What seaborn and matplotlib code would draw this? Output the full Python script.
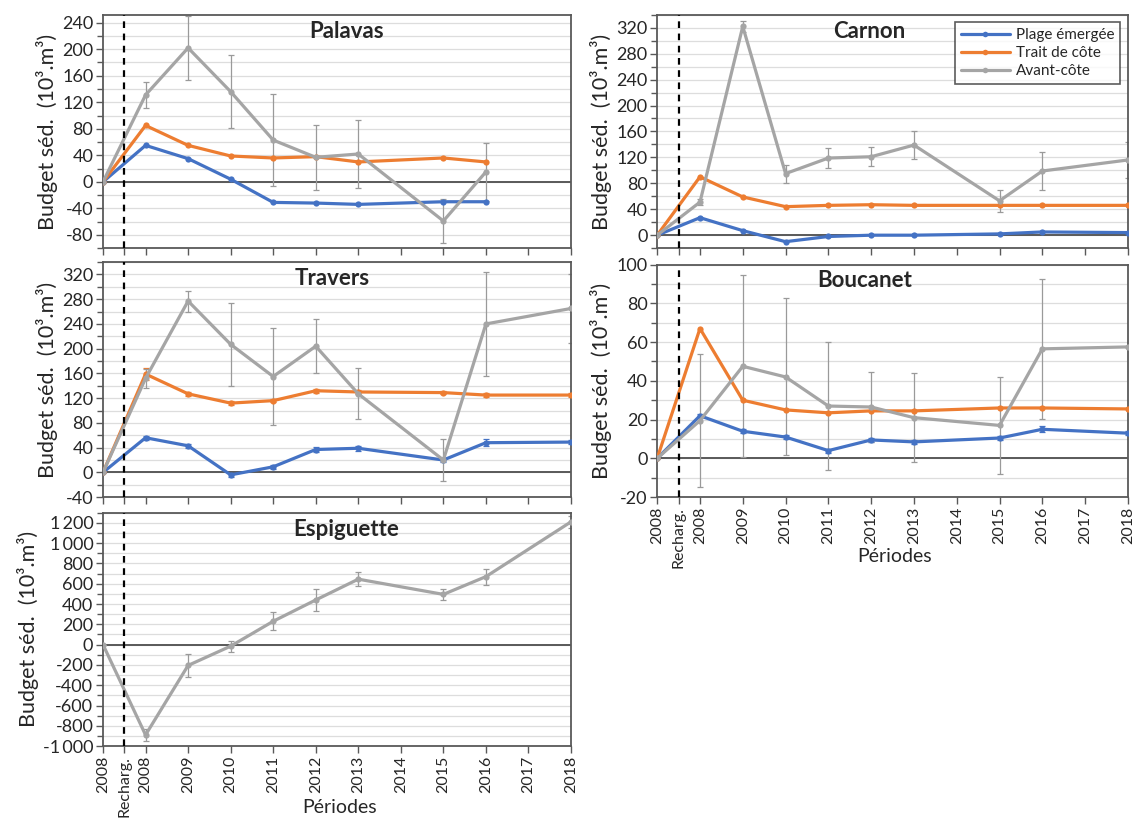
import numpy as np
import pandas as pd
import seaborn as sns
import matplotlib.pyplot as plt
from matplotlib.lines import Line2D
from matplotlib.ticker import MultipleLocator, FuncFormatter

# x axis: category slots 0..11, the recharge sits halfway between the two 2008 slots
tick_labels = ['2008', '2008', '2009', '2010', '2011', '2012', '2013', '2014', '2015', '2016', '2017', '2018']
recharge_label = 'Recharg.'
recharge_slot = 0.5
survey_slot = [0, 1, 2, 3, 4, 5, 6, 8, 9, 11]

series_names = ['Plage émergée', 'Trait de côte', 'Avant-côte']
colors = ['#4472C4', '#ED7D31', '#A5A5A5']
err_colors = ['#4472C4', '#ED7D31', '#9A9A9A']
nan = np.nan

# budgets (10^3 m3)
palavas_plage = [0, 55, 35, 4, -31, -32, -34, -30, -30, nan]
palavas_trait = [0, 85, 55, 39, 36, 38, 30, 36, 30, nan]
palavas_avant = [0, 131, 202, 136, 63, 37, 42, -59, 15, nan]
palavas_avant_err = [0, 19, 48, 55, 70, 49, 52, 33, 44, nan]

carnon_plage = [0, 27, 7, -10, -2, 0, 0, 2, 5, 4]
carnon_trait = [0, 90, 59, 44, 46, 47, 46, 46, 46, 46]
carnon_avant = [0, 51, 322, 95, 119, 121, 139, 53, 99, 116]
carnon_avant_err = [0, 5, 9, 14, 15, 15, 22, 17, 30, 28]

travers_plage = [0, 56, 43, -4, 9, 37, 39, 20, 48, 49]
travers_plage_err = [0, 3, 3, 3, 3, 4, 4, 3, 6, 3]
travers_trait = [0, 159, 127, 112, 116, 132, 130, 129, 125, 125]
travers_trait_err = [0, 10, 3, 3, 3, 3, 3, 3, 3, 3]
travers_avant = [0, 152, 277, 207, 155, 204, 127, 20, 240, 265]
travers_avant_err = [0, 15, 17, 67, 79, 44, 41, 34, 84, 56]

boucanet_plage = [0, 22, 14, 11, 4, 9.5, 8.5, 10.5, 15, 13]
boucanet_plage_err = [0, 1, 1, 1, 1, 1, 1, 1, 1.5, 1]
boucanet_trait = [0, 67, 30, 25, 23.5, 24.5, 24.5, 26, 26, 25.5]
boucanet_avant = [0, 19.5, 47.5, 42, 27, 26.5, 21, 17, 56.5, 57.5]
boucanet_avant_err = [0, 34.5, 47, 40.5, 33, 18, 23, 25, 36, 0]

espiguette_avant = [0, -890, -205, -15, 230, 440, 645, 495, 670, 1210]
espiguette_avant_err = [0, 60, 110, 54, 88, 105, 68, 51, 80, 60]

sns.set_style('white')
plt.rcParams['font.family'] = ['Lato', 'DejaVu Sans']
plt.rcParams['axes.unicode_minus'] = False

fig = plt.figure(figsize=(11.37, 8.19), dpi=100)


def thousands(v, pos):
    return f'{v:,.0f}'.replace(',', '\u2009')


def draw_site(rect, name, series, errors, ylim, major, minor, title_x, show_x=False, legend=False):
    ax = fig.add_axes(rect)
    rows = []
    for nm, vals in zip(series_names, series):
        if vals is None:
            continue
        for s, v in zip(survey_slot, vals):
            if not np.isnan(v):
                rows.append({'slot': s, 'budget': v, 'serie': nm})
    df = pd.DataFrame(rows)
    used = [nm for nm, v in zip(series_names, series) if v is not None]
    pal = {nm: c for nm, c in zip(series_names, colors)}

    # grid + zero line + recharge marker
    ax.set_ylim(*ylim)
    ax.yaxis.set_major_locator(MultipleLocator(major))
    ax.yaxis.set_minor_locator(MultipleLocator(minor))
    ax.grid(True, which='both', axis='y', color='#DDDDDD', lw=0.9, zorder=0)
    ax.axhline(0, color='#595959', lw=1.4, zorder=1)
    ax.axvline(recharge_slot, color='black', ls=(0, (3, 2.5)), lw=1.6, zorder=5)

    for nm, vals, err in zip(series_names, series, errors):
        if vals is None or err is None:
            continue
        c = err_colors[series_names.index(nm)]
        ax.errorbar(survey_slot, vals, yerr=err, fmt='none', ecolor=c, elinewidth=0.9,
                    capsize=2, capthick=0.9, zorder=2)

    sns.lineplot(data=df, x='slot', y='budget', hue='serie', hue_order=used, palette=pal,
                 marker='o', markersize=4.5, markeredgewidth=0, lw=2.3, errorbar=None,
                 legend=False, ax=ax, zorder=3)

    ax.set_xlim(0, 11)
    ax.set_xticks(list(range(12)) + [recharge_slot])
    if show_x:
        ax.set_xticklabels(tick_labels + [recharge_label], rotation=90, fontsize=11.5)
    else:
        ax.set_xticklabels([])
    ax.set_xlabel('')
    ax.yaxis.set_major_formatter(FuncFormatter(thousands))
    ax.tick_params(axis='y', which='major', labelsize=13, length=5, width=1, color='#595959',
                   direction='out', left=True, pad=2)
    ax.tick_params(axis='y', which='minor', length=4, width=1, color='#595959', direction='out', left=True)
    ax.tick_params(axis='x', which='major', length=5, width=1, color='#595959', direction='out',
                   bottom=True, pad=2)
    ax.set_ylabel('Budget séd.  (10³.m³)', fontsize=15.5, labelpad=3)
    for sp in ax.spines.values():
        sp.set_color('#595959')
        sp.set_linewidth(1.3)
    ax.text(title_x, 0.93, name, transform=ax.transAxes, ha='center', va='center',
            fontsize=16, fontweight='bold', zorder=6)

    if legend:
        handles = [Line2D([], [], color=c, lw=2.3, marker='o', markersize=4, markeredgewidth=0)
                   for c in colors]
        leg = ax.legend(handles, series_names, loc='upper right', fontsize=11, frameon=True,
                        fancybox=False, edgecolor='#333333', borderaxespad=0.5,
                        handlelength=3.2, handletextpad=0.4, labelspacing=0.25, borderpad=0.4)
        leg.get_frame().set_linewidth(1.2)
        leg.set_zorder(7)
    return ax


L, W = 0.0906, 0.4116
R, WR = 0.578, 0.414

draw_site([L, 0.697, W, 0.285], 'Palavas',
          [palavas_plage, palavas_trait, palavas_avant],
          [None, None, palavas_avant_err],
          (-100, 252), 40, 20, 0.52)
draw_site([L, 0.393, W, 0.287], 'Travers',
          [travers_plage, travers_trait, travers_avant],
          [travers_plage_err, travers_trait_err, travers_avant_err],
          (-40, 340), 40, 20, 0.49)
draw_site([L, 0.089, W, 0.285], 'Espiguette',
          [None, None, espiguette_avant],
          [None, None, espiguette_avant_err],
          (-1000, 1300), 200, 100, 0.52, show_x=True)
draw_site([R, 0.697, WR, 0.285], 'Carnon',
          [carnon_plage, carnon_trait, carnon_avant],
          [None, None, carnon_avant_err],
          (-20, 340), 40, 20, 0.45, legend=True)
draw_site([R, 0.393, WR, 0.284], 'Boucanet',
          [boucanet_plage, boucanet_trait, boucanet_avant],
          [boucanet_plage_err, None, boucanet_avant_err],
          (-20, 100), 20, 10, 0.44, show_x=True)

# the x label sits right under the year labels, beside the longer "Recharg." label
fig.text(0.299, 0.014, 'Périodes', ha='center', va='center', fontsize=14)
fig.text(0.787, 0.320, 'Périodes', ha='center', va='center', fontsize=14)

fig.savefig('out.png', dpi=100)
